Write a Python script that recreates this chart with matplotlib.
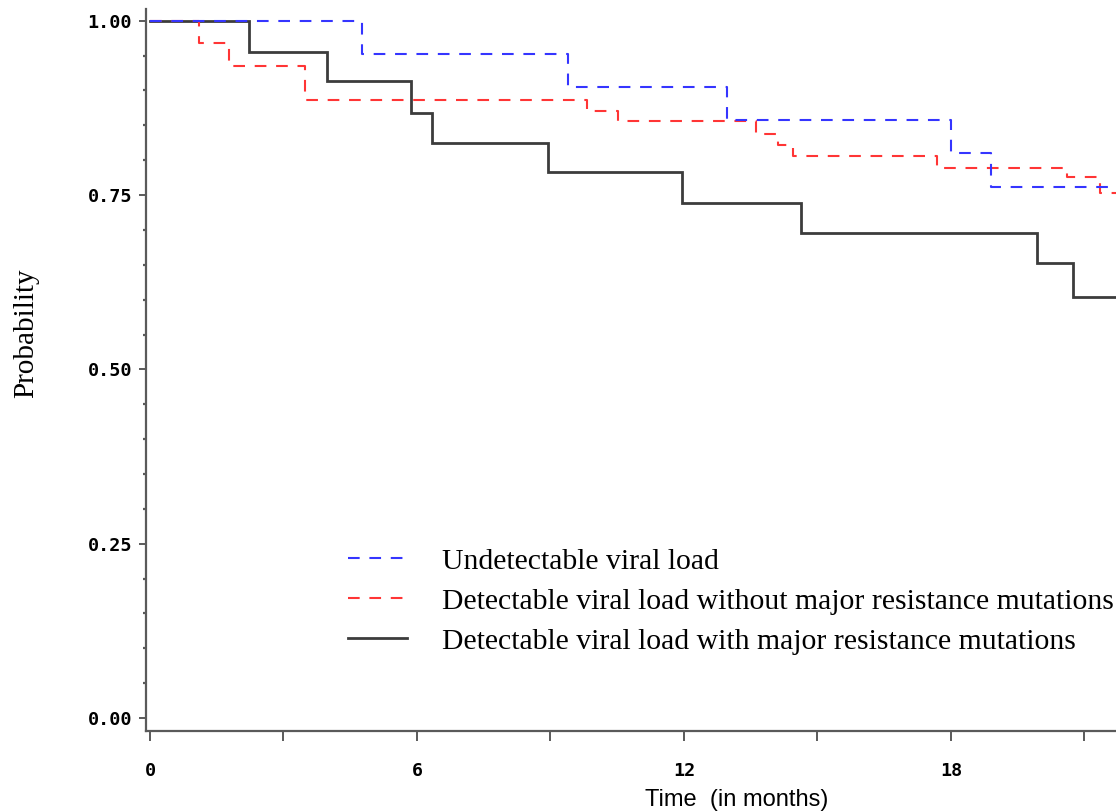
import matplotlib
matplotlib.use("Agg")
import matplotlib.pyplot as plt
from matplotlib.lines import Line2D
from matplotlib.ticker import MultipleLocator, FixedLocator

# ---- data ----
undet_t = [0.0, 4.76, 9.40, 12.96, 18.01, 18.91, 24.0]
undet_s = [1.000, 0.952, 0.905, 0.857, 0.810, 0.762, 0.762]

nomut_t = [0.0, 1.10, 1.78, 3.48, 9.83, 10.51, 13.62, 14.12, 14.45, 17.68, 20.60, 21.35, 24.0]
nomut_s = [1.000, 0.968, 0.935, 0.887, 0.870, 0.856, 0.838, 0.822, 0.806, 0.789, 0.776, 0.753, 0.753]

mut_t = [0.0, 2.23, 3.98, 5.86, 6.33, 8.94, 11.96, 14.64, 19.94, 20.75, 24.0]
mut_s = [1.000, 0.955, 0.913, 0.867, 0.825, 0.783, 0.739, 0.695, 0.652, 0.604, 0.604]

labels = ["Undetectable viral load",
          "Detectable viral load without major resistance mutations",
          "Detectable viral load with major resistance mutations"]
xticks_major = [0, 6, 12, 18]
xticks_minor = [3, 9, 15, 21]
yticks_major = [0.0, 0.25, 0.50, 0.75, 1.00]

# ---- style ----
plt.rcParams['lines.scale_dashes'] = False
blue = "#3535ff"
red = "#ff3535"
black = "#3c3c3c"
axcol = "#5a5a5a"
dash = (8.4, 7.0)

W, H = 1116, 811
fig = plt.figure(figsize=(W / 100, H / 100), dpi=100)
left_px, right_px, bottom_px, top_px = 146, 1116, 731, 9
ax = fig.add_axes([left_px / W, (H - bottom_px) / H,
                   (right_px - left_px) / W, (bottom_px - top_px) / H])

ax.step(mut_t, mut_s, where='post', color=black, lw=2.0, solid_joinstyle='miter')
ax.step(nomut_t, nomut_s, where='post', color=red, lw=1.5, dashes=dash)
ax.step(undet_t, undet_s, where='post', color=blue, lw=1.5, dashes=dash)

ax.set_xlim(-0.09, 21.71)
ax.set_ylim(-0.0185, 1.0168)

for s in ['top', 'right']:
    ax.spines[s].set_visible(False)
for s in ['left', 'bottom']:
    ax.spines[s].set_color(axcol)
    ax.spines[s].set_linewidth(1.6)

tickfont = dict(family='DejaVu Sans Mono', weight='bold', size=13.3)
ax.xaxis.set_major_locator(FixedLocator(xticks_major))
ax.xaxis.set_minor_locator(FixedLocator(xticks_minor))
ax.set_xticklabels([str(v) for v in xticks_major], fontdict=tickfont)
ax.yaxis.set_major_locator(FixedLocator(yticks_major))
ax.yaxis.set_minor_locator(MultipleLocator(0.05))
ax.set_yticklabels(["%.2f" % v for v in yticks_major], fontdict=tickfont)

ax.tick_params(axis='x', which='both', direction='out', length=7, width=1.4,
               color=axcol, pad=15.5)
ax.tick_params(axis='y', which='major', direction='out', length=5, width=1.4,
               color=axcol, pad=5)
ax.tick_params(axis='y', which='minor', direction='out', length=2.2, width=1.6,
               color=axcol)

ax.set_xlabel("Time  (in months)", family='Liberation Sans', fontsize=17)
ax.xaxis.label.set_va('baseline')
ax.xaxis.set_label_coords((736.5 - left_px) / (right_px - left_px),
                          -(806 - bottom_px) / (bottom_px - top_px))
ax.set_ylabel("Probability", family='Liberation Serif', fontsize=21)
ax.yaxis.label.set_va('center')
ax.yaxis.set_label_coords((26 - left_px) / (right_px - left_px),
                          (bottom_px - 333) / (bottom_px - top_px))

handles = [Line2D([], [], color=blue, lw=1.5, dashes=dash),
           Line2D([], [], color=red, lw=1.5, dashes=dash),
           Line2D([], [], color=black, lw=2.0)]
leg = ax.legend(handles, labels, loc='upper left',
                bbox_to_anchor=((348 - left_px) / (right_px - left_px),
                                (bottom_px - 548) / (bottom_px - top_px)),
                frameon=False, borderpad=0, borderaxespad=0,
                handlelength=2.0, handletextpad=1.17, labelspacing=0.44,
                prop=dict(family='Liberation Serif', size=21.4))

fig.savefig("out.png", dpi=100)
